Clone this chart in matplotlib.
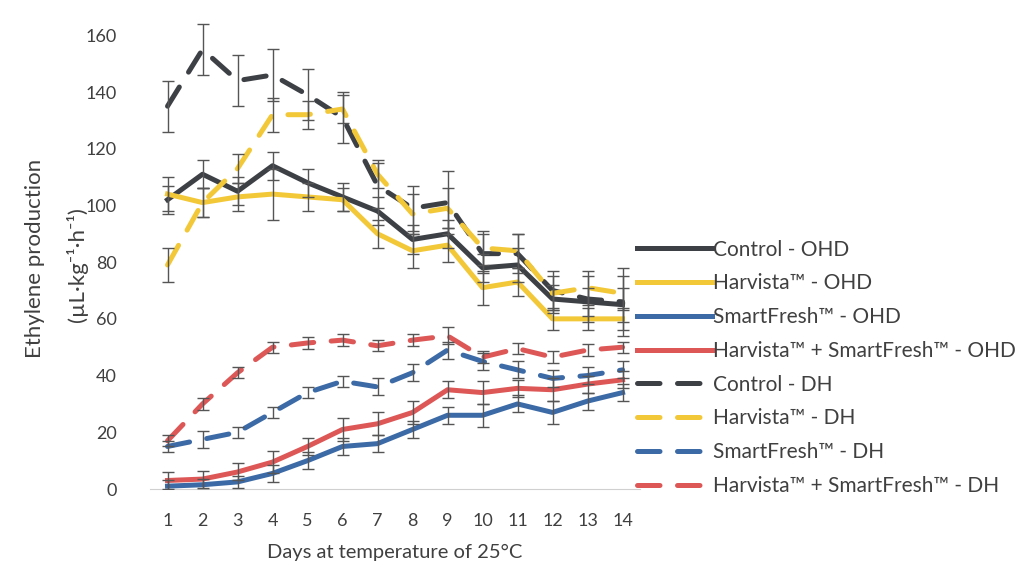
import numpy as np
import matplotlib
matplotlib.use("Agg")
import matplotlib.pyplot as plt

plt.rcParams['font.family'] = ['Lato', 'DejaVu Sans']

# Datos
days = np.arange(1, 15)

control_ohd = [102, 111, 105, 114, 108, 103, 98, 88, 90, 78, 79, 67, 66, 65]
harvista_ohd = [104, 101, 103, 104, 103, 102, 90, 84, 86, 71, 73, 60, 60, 60]
smartfresh_ohd = [1, 1.5, 2.5, 5.5, 10, 15, 16, 21, 26, 26, 30, 27, 31, 34]
hsf_ohd = [3, 3.5, 6, 9.5, 15, 21, 23, 27, 35, 34, 35.5, 35, 37, 38.5]
control_dh = [135, 155, 144, 146, 139, 131, 107, 99, 101, 83, 83, 70, 67, 66]
harvista_dh = [79, 101, 113, 132, 132, 134, 111, 97, 99, 85, 84, 69, 71, 69]
smartfresh_dh = [15, 17.5, 20, 27, 34, 38, 36, 41, 49, 45, 42, 39, 40, 42]
hsf_dh = [17, 30, 41, 50, 51.5, 52.5, 50.5, 52.5, 54, 46.5, 49.5, 46.5, 49, 50]

err_control_ohd = [5, 5, 5, 5, 5, 5, 5, 5, 5, 5, 6, 5, 5, 6]
err_harvista_ohd = [6, 5, 5, 9, 5, 4, 5, 6, 6, 6, 5, 4, 4, 4]
err_smartfresh_ohd = [2, 2, 2, 3, 3, 3, 3, 3, 3, 4, 3, 4, 3, 3]
err_hsf_ohd = [3, 3, 3, 4, 3, 4, 4, 4, 3, 4, 3, 4, 3, 3]
err_control_dh = [9, 9, 9, 9, 9, 9, 8, 8, 11, 7, 7, 7, 8, 12]
err_harvista_dh = [6, 5, 5, 6, 5, 5, 5, 7, 7, 6, 6, 6, 6, 6]
err_smartfresh_dh = [2, 3, 2, 2, 2, 2, 3, 3, 3, 3, 3, 3, 3, 3]
err_hsf_dh = [2, 2, 2, 2, 2, 2, 2, 2, 3, 2, 2, 2, 2, 2]

labels = ["Control - OHD", "Harvista™ - OHD", "SmartFresh™ - OHD",
          "Harvista™ + SmartFresh™ - OHD", "Control - DH", "Harvista™ - DH",
          "SmartFresh™ - DH", "Harvista™ + SmartFresh™ - DH"]

# Colores tipo Excel
c_black = '#3d4045'
c_yellow = '#f3c838'
c_blue = '#3b6aa6'
c_red = '#de5757'

series = [
    (control_ohd, err_control_ohd, c_black, '-'),
    (harvista_ohd, err_harvista_ohd, c_yellow, '-'),
    (smartfresh_ohd, err_smartfresh_ohd, c_blue, '-'),
    (hsf_ohd, err_hsf_ohd, c_red, '-'),
    (control_dh, err_control_dh, c_black, '--'),
    (harvista_dh, err_harvista_dh, c_yellow, '--'),
    (smartfresh_dh, err_smartfresh_dh, c_blue, '--'),
    (hsf_dh, err_hsf_dh, c_red, '--'),
]

fig = plt.figure(figsize=(10.36, 5.72), dpi=100)
ax = fig.add_axes([0.1448, 0.1451, 0.473, 0.818])

handles = []
for (vals, err, col, ls), lab in zip(series, labels):
    ax.errorbar(days, vals, yerr=err, fmt='none', ecolor='#555555',
                elinewidth=1.0, capsize=4, capthick=1.0, zorder=3)
    if ls == '--':
        ln, = ax.plot(days, vals, color=col, lw=3.6, dashes=(4.5, 3.5),
                      solid_capstyle='round', dash_capstyle='round',
                      label=lab, zorder=2)
    else:
        ln, = ax.plot(days, vals, color=col, lw=3.6, label=lab,
                      solid_joinstyle='round', zorder=2)
    handles.append(ln)

ax.set_xlim(0.5, 14.5)
ax.set_ylim(0, 165)
ax.set_xticks(days)
ax.set_yticks(np.arange(0, 161, 20))
ax.tick_params(axis='both', length=0, labelsize=13, colors='#404040')
ax.tick_params(axis='y', pad=24)
ax.tick_params(axis='x', pad=17)
for s in ['top', 'right', 'left']:
    ax.spines[s].set_visible(False)
ax.spines['bottom'].set_color('#d0d0d0')

ax.set_xlabel("Days at temperature of 25°C", fontsize=14.5, color='#404040',
              labelpad=11)
fig.text(0.034, 0.549, "Ethylene production", rotation=90, fontsize=16,
         color='#404040', ha='center', va='center')
fig.text(0.074, 0.537, "(µL·kg⁻¹·h⁻¹)", rotation=90, fontsize=16,
         color='#404040', ha='center', va='center')

fig.legend(handles=handles, loc='upper left',
           bbox_to_anchor=(0.597, 0.614), frameon=False, fontsize=15,
           handlelength=3.6, handletextpad=0.05, labelspacing=0.66,
           labelcolor='#404040')

fig.savefig("out.png", dpi=100)
